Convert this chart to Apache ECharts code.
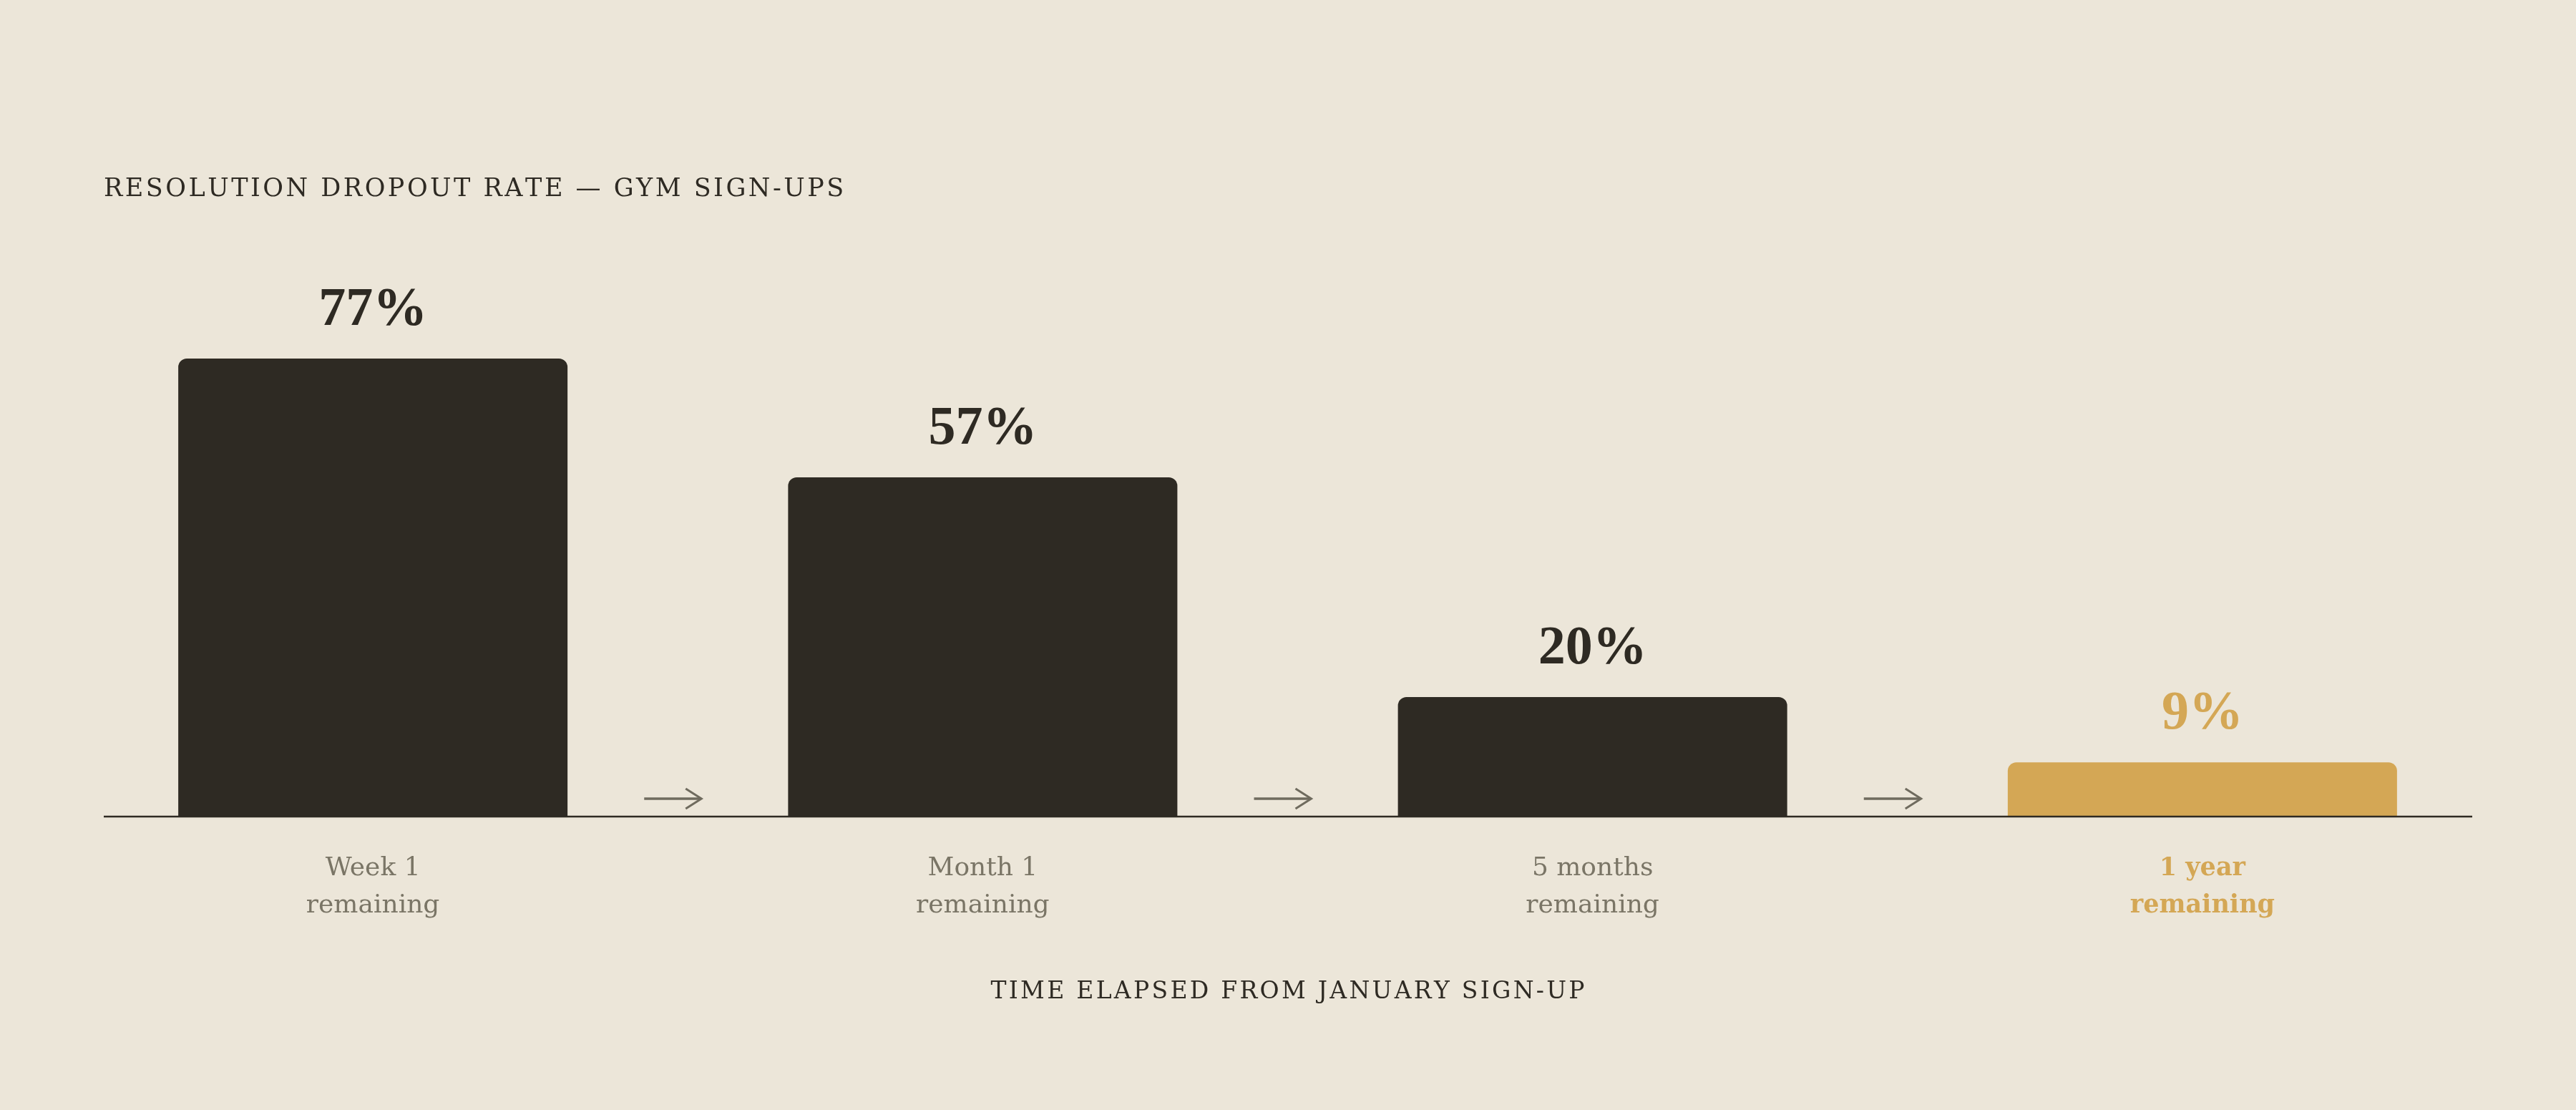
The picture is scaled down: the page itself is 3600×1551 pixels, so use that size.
<!DOCTYPE html>
<html>
<head>
<meta charset="utf-8">
<script src="https://cdn.jsdelivr.net/npm/echarts@6/dist/echarts.min.js"></script>
<style>
  html, body { margin: 0; padding: 0; background: #ece6d9; }
  #chart { width: 3600px; height: 1551px; }
</style>
</head>
<body>
<div id="chart"></div>
<script>
// data
var categories = ['Week 1\nremaining', 'Month 1\nremaining', '5 months\nremaining', '1 year\nremaining'];
var dropout = [77, 57, 20, 9];
var highlighted = [false, false, false, true];
var arrowAfter = [0, 1, 2];   // arrow drawn between category i and i+1

var title = 'RESOLUTION DROPOUT RATE \u2014 GYM SIGN-UPS';
var axisTitle = 'TIME ELAPSED FROM JANUARY SIGN-UP';

var INK = '#2e2a23', GOLD = '#d4a755', GREY = '#7a7566', ARROW = '#6f6b5e';

// no letterSpacing in canvas text here, so pad with hair spaces
function spaced(s) { return s.split('').join('\u200A'); }

var chart = echarts.init(document.getElementById('chart'));

var option = {
  backgroundColor: '#ece6d9',
  animation: false,
  title: {
    text: spaced(title),
    left: 145,
    top: 247,
    padding: 0,
    textStyle: { fontFamily: 'DejaVu Serif', fontSize: 35, fontWeight: 'normal', color: INK }
  },
  grid: { left: 95, right: 96, top: 310, bottom: 411 },
  xAxis: {
    type: 'category',
    data: categories,
    name: spaced(axisTitle),
    nameLocation: 'middle',
    nameGap: 230,
    nameTextStyle: { fontFamily: 'DejaVu Serif', fontSize: 33, color: INK },
    axisLine: { show: false },
    axisTick: { show: false },
    axisLabel: {
      margin: 48,
      interval: 0,
      formatter: function (v, i) {
        return highlighted[i] ? '{hl|' + v.split('\n').join('}\n{hl|') + '}' : v;
      },
      fontFamily: 'DejaVu Serif',
      fontSize: 36,
      lineHeight: 52,
      color: GREY,
      rich: {
        hl: { fontFamily: 'DejaVu Serif', fontSize: 35, lineHeight: 52, fontWeight: 'bold', color: GOLD }
      }
    }
  },
  yAxis: {
    type: 'value',
    min: 0,
    max: 100,
    show: false,
    splitLine: { show: false }
  },
  graphic: [
    {
      type: 'line',
      shape: { x1: 145, y1: 1141, x2: 3455, y2: 1141 },
      style: { stroke: INK, lineWidth: 2.5 },
      z: 10
    }
  ],
  series: [
    {
      type: 'bar',
      barWidth: 544,
      data: dropout.map(function (v, i) {
        return {
          value: v,
          itemStyle: { color: highlighted[i] ? GOLD : INK },
          label: { color: highlighted[i] ? GOLD : INK }
        };
      }),
      itemStyle: { borderRadius: [12, 12, 0, 0] },
      label: {
        show: true,
        position: 'top',
        distance: 29,
        formatter: '{c}%',
        fontFamily: 'Liberation Serif',
        fontWeight: 'bold',
        fontSize: 76
      },
      silent: true
    },
    {
      type: 'custom',
      silent: true,
      data: arrowAfter.map(function (i) { return [i, 0]; }),
      renderItem: function (params, api) {
        var i = api.value(0);
        var a = api.coord([i, 0]);
        var b = api.coord([i + 1, 0]);
        var x = (a[0] + b[0]) / 2 - 7;
        var y = a[1] - 24;
        return {
          type: 'group',
          children: [
            {
              type: 'line',
              shape: { x1: x - 40, y1: y, x2: x + 39, y2: y },
              style: { stroke: ARROW, lineWidth: 3.5 }
            },
            {
              type: 'polyline',
              shape: { points: [[x + 18, y - 14], [x + 40, y], [x + 18, y + 14]] },
              style: { stroke: ARROW, fill: null, lineWidth: 3 }
            }
          ]
        };
      }
    }
  ]
};

chart.setOption(option);
window.addEventListener('resize', function () { chart.resize(); });
</script>
</body>
</html>
